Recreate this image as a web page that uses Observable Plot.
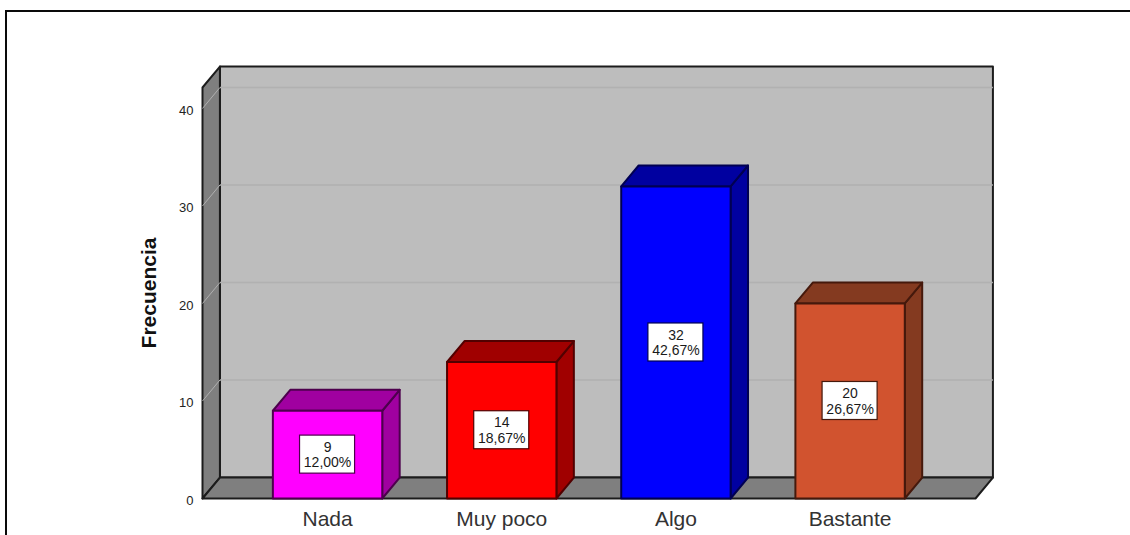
<!DOCTYPE html>
<html lang="es">
<head>
<meta charset="utf-8">
<script src="https://cdn.jsdelivr.net/npm/d3@7"></script>
<script src="https://cdn.jsdelivr.net/npm/@observablehq/plot@0.6"></script>
<style>
  html, body { margin: 0; padding: 0; background: #fff; overflow: hidden; }
  #chart { position: relative; width: 1130px; height: 535px; }
  #chart svg { position: absolute; left: 0; top: 0; background: transparent; }
  /* Outer chart border: only the top and left edges fall inside the page */
  #border { position: absolute; left: 5px; top: 10px; width: 1125px; height: 525px;
            border-left: 2px solid #0a0a0a; border-top: 2px solid #0a0a0a; box-sizing: border-box; }
</style>
</head>
<body>
<div id="chart"><div id="border"></div></div>
<script>
// Frequencies by response category
const categorias = ["Nada", "Muy poco", "Algo", "Bastante"];
const frecuencias = [9, 14, 32, 20];
const porcentajes = ["12,00%", "18,67%", "42,67%", "26,67%"];
const ticksY = [0, 10, 20, 30, 40];
const lineasMalla = [10, 20, 30, 40];

// Face colours of each 3D bar
const colorFrente = ["#ff00ff", "#ff0000", "#0000ff", "#d1532f"];
const colorLado = ["#a000a0", "#a00000", "#0000a0", "#843a20"];
const colorBorde = ["#4d004d", "#520000", "#000052", "#45190c"];

// Extent of the chart box and of the oblique depth, in data units
const xMin = -0.718, xMax = 3.72, yMax = 42.15;
const fondoX = 0.1, fondoY = 2.15;
const mediaBarra = 0.314, cajaX = 0.158, cajaY = 1.95;

const indices = categorias.map((_, i) => i);
const caras = [];
function cara(id, fill, stroke, puntos) {
  for (const [x, y] of puntos) caras.push({id, fill, stroke, x, y});
}

// Walls and floor of the box
const bordeCaja = "#1c1c1c";
cara("fondo", "#bdbdbd", bordeCaja, [[xMin + fondoX, fondoY], [xMax + fondoX, fondoY], [xMax + fondoX, yMax + fondoY], [xMin + fondoX, yMax + fondoY]]);
cara("pared", "#7f7f7f", bordeCaja, [[xMin, 0], [xMin + fondoX, fondoY], [xMin + fondoX, yMax + fondoY], [xMin, yMax]]);
cara("suelo", "#7f7f7f", bordeCaja, [[xMin, 0], [xMax, 0], [xMax + fondoX, fondoY], [xMin + fondoX, fondoY]]);

// Three visible faces of each bar
const carasBarras = [];
function caraBarra(id, fill, stroke, puntos) {
  for (const [x, y] of puntos) carasBarras.push({id, fill, stroke, x, y});
}
indices.forEach(i => {
  const a = i - mediaBarra, b = i + mediaBarra, v = frecuencias[i];
  caraBarra(`lado${i}`, colorLado[i], colorBorde[i], [[b, 0], [b + fondoX, fondoY], [b + fondoX, v + fondoY], [b, v]]);
  caraBarra(`tapa${i}`, colorLado[i], colorBorde[i], [[a, v], [b, v], [b + fondoX, v + fondoY], [a + fondoX, v + fondoY]]);
  caraBarra(`frente${i}`, colorFrente[i], colorBorde[i], [[a, 0], [b, 0], [b, v], [a, v]]);
});

const poligonos = (datos) => Plot.line(datos, {
  x: "x", y: "y", z: "id", fill: "fill", stroke: "stroke",
  curve: "linear-closed", strokeWidth: 2
});

const chart = Plot.plot({
  width: 1130,
  height: 535,
  marginLeft: 202,
  marginRight: 155,
  marginTop: 87,
  marginBottom: 37,
  style: {fontFamily: "'Liberation Sans', Arial, sans-serif", background: "transparent"},
  x: {type: "linear", domain: [xMin, xMax]},
  y: {type: "linear", domain: [0, yMax]},
  color: {type: "identity"},
  marks: [
    poligonos(caras),
    // Grid lines across the back wall and down the side wall
    Plot.link(lineasMalla, {x1: xMin + fondoX, x2: xMax + fondoX, y1: d => d + fondoY, y2: d => d + fondoY, stroke: "#b1b1b1", strokeWidth: 1.5}),
    Plot.link(lineasMalla, {x1: xMin, x2: xMin + fondoX, y1: d => d, y2: d => d + fondoY, stroke: "#b0b0b0", strokeWidth: 1}),
    poligonos(carasBarras),
    // Value labels centred on each bar's front face
    Plot.rect(indices, {
      x1: i => i - cajaX, x2: i => i + cajaX,
      y1: i => frecuencias[i] / 2 - cajaY, y2: i => frecuencias[i] / 2 + cajaY,
      fill: "#fff", stroke: i => colorBorde[i], strokeWidth: 1.2
    }),
    Plot.text(indices, {
      x: i => i, y: i => frecuencias[i] / 2,
      text: i => `${frecuencias[i]}\n${porcentajes[i]}`,
      fontSize: 14, lineHeight: 1.1, fill: "#1a1a1a"
    }),
    Plot.axisY(ticksY, {
      anchor: "left", tickSize: 0, tickPadding: 9, fontSize: 13, label: null,
      dy: 2, color: "#222"
    }),
    Plot.axisX(indices, {
      anchor: "bottom", tickSize: 0, tickPadding: 13, fontSize: 21, label: null,
      tickFormat: i => categorias[i], color: "#333"
    }),
    Plot.text(["Frecuencia"], {
      frameAnchor: "left", textAnchor: "middle", rotate: -90, dx: -53,
      fontSize: 21, fontWeight: "bold", fill: "#111"
    })
  ]
});
document.getElementById("chart").appendChild(chart);
</script>
</body>
</html>
